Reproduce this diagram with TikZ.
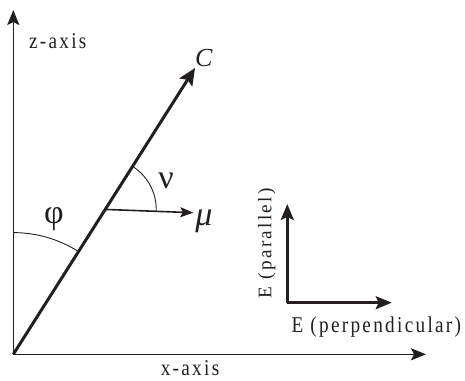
\documentclass[tikz,border=0pt]{standalone}
\usepackage{fontspec}
\setmainfont{Liberation Serif}
\newfontfamily\spaced[LetterSpace=12]{Liberation Serif}
\usepackage{tikz}
\usetikzlibrary{arrows.meta,calc}
\definecolor{ink}{RGB}{35,31,32}
\tikzset{
  axis/.style  = {-{Stealth[length=15pt,width=12pt,inset=3pt]}, line width=1.6pt, draw=ink},
  beam/.style  = {-{Stealth[length=17pt,width=15pt,inset=3pt]}, line width=3pt, draw=ink},
  field/.style = {-{Stealth[length=16pt,width=13pt,inset=3pt]}, line width=2.6pt, draw=ink},
  dir/.style   = {-{Stealth[length=13pt,width=10pt,inset=2.5pt]}, line width=1.6pt, draw=ink},
  angle/.style = {line width=0.9pt, draw=ink},
  lbl/.style   = {font=\fontsize{22.6}{26}\selectfont\spaced, text=ink, inner sep=0pt, xscale=0.85},
  sym/.style   = {font=\fontsize{34}{38}\selectfont, text=ink, inner sep=0pt},
}
\begin{document}
\begin{tikzpicture}[x=1pt,y=1pt]
  \useasboundingbox (0,0) rectangle (465,380);
  % axes and the C direction
  \coordinate (O) at (13.3,25.7);
  \coordinate (ztip) at (13.3,370);
  \coordinate (xtip) at (426,25.7);
  \coordinate (ctip) at (195,312);
  \draw[axis] (O) -- (ztip);
  \draw[axis] (O) -- (xtip);
  \draw[beam] (O) -- (ctip);
  \node[lbl] (zlab) at (57.7,339.3) {z-axis};
  \node[lbl, anchor=base] (xlab) at (190,5) {x-axis};
  \node[sym, font=\fontsize{26}{30}\selectfont] (clab) at (204,322) {\textit{C}};
  % mu and the angles
  \coordinate (mbase) at ($(O)!0.506!(ctip)$);
  \coordinate (mtip) at (193.3,167.3);
  \draw[dir] (mbase) -- (mtip);
  \node[sym] (mlab) at (204,159) {\textit{μ}};
  \draw[angle] ($(O)+(0,121.7)$) arc[start angle=90, end angle=57.6, radius=121.7];
  \draw[angle] ($(mbase)+(57.6:51)$) arc[start angle=57.6, end angle=-2.2, radius=51];
  \node[sym] (phlab) at (54,161) {φ};
  \node[sym] (nulab) at (166,199) {ν};
  % field components
  \coordinate (ecor) at (287.3,77.3);
  \coordinate (eup) at (287.3,176);
  \coordinate (eright) at (391.7,77.3);
  \draw[field] (ecor) -- (eup);
  \draw[field] (ecor) -- (eright);
  \node[lbl, rotate=90, xscale=0.85] (eplab) at (266.7,136.7) {E (parallel)};
  \node[lbl] (enlab) at (376.3,52.5) {E (perpendicular)};
\end{tikzpicture}
\end{document}
